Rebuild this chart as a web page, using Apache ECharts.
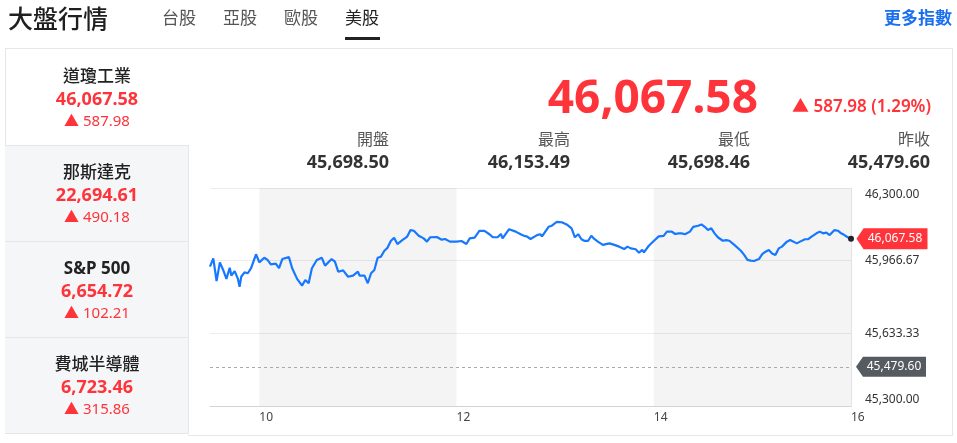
<!DOCTYPE html>
<html><head><meta charset="utf-8">
<script src="https://cdn.jsdelivr.net/npm/echarts@6/dist/echarts.min.js"></script>
<style>
body{margin:0;width:957px;height:443px;overflow:hidden;background:#fff;position:relative;font-family:"Noto Sans","Noto Sans CJK TC",sans-serif;color:#222}
#chart{position:absolute;left:0;top:0;width:957px;height:443px;z-index:0}
.a{position:absolute;white-space:nowrap;line-height:1.2;z-index:2}
.cy{transform:translateY(-50%)}
.cxy{transform:translate(-50%,-50%)}
.red{color:#ff333a}
.box{position:absolute;box-sizing:border-box;z-index:1}
</style></head>
<body>
<div id="chart"></div>
<!-- header -->
<div class="a cy" style="left:8px;top:18px;font-size:25px;font-weight:500;color:#1f1f1f">大盤行情</div>
<div class="a cy" style="left:162px;top:18px;font-size:17px;color:#555">台股</div>
<div class="a cy" style="left:223px;top:18px;font-size:17px;color:#555">亞股</div>
<div class="a cy" style="left:284px;top:18px;font-size:17px;color:#555">歐股</div>
<div class="a cy" style="left:345px;top:18px;font-size:17px;color:#222">美股</div>
<div class="box" style="left:345px;top:37px;width:35px;height:3px;background:#222"></div>
<div class="a cy" style="right:5px;top:18px;font-size:17px;font-weight:700;color:#1a6ff0">更多指數</div>
<div class="box" style="left:5px;top:48px;width:948px;height:1px;background:#e6e7ea"></div>
<!-- left panel -->
<div class="box" style="left:5px;top:49px;width:1px;height:96px;background:#e6e7ea"></div>
<div class="box" style="left:5px;top:145px;width:184px;height:289px;background:#f5f6f8;border-top:1px solid #e4e6ea;border-right:1px solid #e4e6ea;border-bottom:1px solid #e4e6ea"></div>
<div class="box" style="left:5px;top:241px;width:183px;height:1px;background:#e4e6ea"></div>
<div class="box" style="left:5px;top:337px;width:183px;height:1px;background:#e4e6ea"></div>
<!-- right panel borders -->
<div class="box" style="left:952px;top:49px;width:1px;height:387px;background:#e6e7ea"></div>
<div class="box" style="left:188px;top:435px;width:765px;height:1px;background:#e6e7ea"></div>

<div class="a cxy" style="left:97px;top:76px;font-size:17px;font-weight:500">道瓊工業</div>
<div class="a cxy red" style="left:97px;top:99px;font-size:18px;font-weight:700">46,067.58</div>
<div class="a cxy red" style="left:97px;top:120px;font-size:15px">▲ 587.98</div>

<div class="a cxy" style="left:97px;top:172px;font-size:17px;font-weight:500">那斯達克</div>
<div class="a cxy red" style="left:97px;top:195px;font-size:18px;font-weight:700">22,694.61</div>
<div class="a cxy red" style="left:97px;top:216px;font-size:15px">▲ 490.18</div>

<div class="a cxy" style="left:97px;top:268px;font-size:17px;font-weight:700">S&amp;P 500</div>
<div class="a cxy red" style="left:97px;top:291px;font-size:18px;font-weight:700">6,654.72</div>
<div class="a cxy red" style="left:97px;top:312px;font-size:15px">▲ 102.21</div>

<div class="a cxy" style="left:97px;top:364px;font-size:17px;font-weight:500">費城半導體</div>
<div class="a cxy red" style="left:97px;top:387px;font-size:18px;font-weight:700">6,723.46</div>
<div class="a cxy red" style="left:97px;top:408px;font-size:15px">▲ 315.86</div>

<!-- main stats -->
<div class="a cy red" style="right:199px;top:96px;font-size:46px;font-weight:700">46,067.58</div>
<div class="a cy red" style="right:26px;top:106px;font-size:17px;font-weight:600">▲ 587.98 (1.29%)</div>

<div class="a cy" style="right:568px;top:140px;font-size:16px;color:#555">開盤</div>
<div class="a cy" style="right:568px;top:162px;font-size:18px;font-weight:700;color:#333">45,698.50</div>
<div class="a cy" style="right:387px;top:140px;font-size:16px;color:#555">最高</div>
<div class="a cy" style="right:387px;top:162px;font-size:18px;font-weight:700;color:#333">46,153.49</div>
<div class="a cy" style="right:207px;top:140px;font-size:16px;color:#555">最低</div>
<div class="a cy" style="right:207px;top:162px;font-size:18px;font-weight:700;color:#333">45,698.46</div>
<div class="a cy" style="right:27px;top:140px;font-size:16px;color:#555">昨收</div>
<div class="a cy" style="right:27px;top:162px;font-size:18px;font-weight:700;color:#333">45,479.60</div>

<script>
// ---- data ----
const times = ["9:30","9:32","9:34","9:36","9:38","9:40","9:42","9:43","9:45","9:47",
"9:48","9:49","9:51","9:53","9:55","9:58","10:00","10:03","10:05","10:07",
"10:10","10:12","10:14","10:18","10:20","10:23","10:26","10:28","10:30","10:32",
"10:35","10:38","10:40","10:44","10:46","10:48","10:51","10:54","10:57","11:00",
"11:01","11:04","11:06","11:08","11:10","11:12","11:14","11:16","11:18","11:20",
"11:22","11:24","11:27","11:30","11:32","11:34","11:37","11:40","11:42","11:44",
"11:48","11:51","11:53","11:56","12:00","12:03","12:06","12:08","12:11","12:14",
"12:17","12:20","12:22","12:25","12:27","12:28","12:32","12:36","12:39","12:41",
"12:43","12:45","12:46","12:49","12:51","12:52","12:56","12:58","13:01","13:04",
"13:07","13:10","13:12","13:14","13:16","13:18","13:20","13:22","13:24","13:26",
"13:29","13:30","13:33","13:36","13:39","13:42","13:44","13:45","13:46","13:49",
"13:51","13:53","13:54","13:57","14:00","14:03","14:06","14:08","14:11","14:13",
"14:15","14:17","14:19","14:22","14:24","14:27","14:29","14:31","14:33","14:35",
"14:37","14:39","14:40","14:42","14:44","14:46","14:49","14:53","14:55","14:57",
"14:59","15:01","15:02","15:04","15:06","15:08","15:10","15:12","15:14","15:16",
"15:18","15:21","15:23","15:25","15:27","15:29","15:32","15:34","15:36","15:39",
"15:41","15:43","15:45","15:47","15:50","15:52","15:54","15:56","15:58","16:00"];
const prices = [45939,45977,45873,45959,45924,45883,45934,45898,45919,45883,
45847,45893,45913,45909,45932,45996,45959,45980,45970,45950,
45953,45932,45974,45983,45932,45883,45852,45878,45863,45932,
45970,45980,45944,45974,45962,45916,45922,45893,45898,45916,
45898,45898,45863,45909,45924,45980,45985,46011,46026,46057,
46072,46043,46061,46077,46107,46104,46081,46069,46054,46074,
46075,46063,46066,46054,46054,46057,46043,46069,46072,46104,
46103,46088,46075,46074,46089,46069,46111,46100,46088,46081,
46077,46066,46069,46084,46088,46078,46122,46127,46145,46143,
46133,46115,46074,46088,46065,46057,46057,46081,46065,46054,
46039,46046,46046,46039,46031,46020,46031,46039,46023,46019,
46003,46016,46005,46035,46057,46078,46080,46100,46100,46089,
46092,46092,46088,46100,46122,46127,46133,46122,46107,46115,
46092,46074,46080,46058,46061,46058,46039,46012,45993,45970,
45967,45965,45974,45974,45997,46008,46016,46000,45993,46023,
46031,46054,46061,46054,46046,46054,46065,46065,46077,46092,
46100,46092,46095,46084,46107,46104,46092,46084,46074,46067.58];
const prevClose = 45479.60;
const lastPrice = 46067.58;
const yTicks = [45300, 45633.33, 45966.67, 46300];
const xTicks = [10, 12, 14, 16];
const shadeBands = [[10, 12], [14, 16]];

const toHour = s => { const p = s.split(':'); return +p[0] + (+p[1]) / 60; };
const fmt = v => Number(v).toLocaleString('en-US', {minimumFractionDigits: 2, maximumFractionDigits: 2});
const seriesData = times.map((t, i) => [toHour(t), prices[i]]);

const chart = echarts.init(document.getElementById('chart'), null, {renderer: 'canvas'});
chart.setOption({
  animation: false,
  backgroundColor: 'transparent',
  grid: {left: 210, right: 106, top: 188, bottom: 37, containLabel: false},
  xAxis: {
    type: 'value', min: 9.5, max: 16,
    axisLine: {show: true, lineStyle: {color: '#cfd3dc', width: 1}},
    axisTick: {show: false, customValues: xTicks},
    splitLine: {show: false},
    axisLabel: {customValues: xTicks, align: 'left', color: '#444', fontSize: 12, margin: 6,
      fontFamily: 'Noto Sans', formatter: v => String(v)}
  },
  yAxis: {
    type: 'value', position: 'right', min: 45300, max: 46300,
    axisLine: {show: true, lineStyle: {color: '#e2e3ea'}},
    axisTick: {show: false, customValues: yTicks},
    splitLine: {show: true, lineStyle: {color: '#ececec'}},
    axisLabel: {
      customValues: yTicks, margin: 14, color: '#333', fontSize: 12, fontFamily: 'Noto Sans',
      formatter: v => v >= 46299 ? '{t|' + fmt(v) + '}' : (v <= 45301 ? '{b|' + fmt(v) + '}' : fmt(v)),
      rich: {t: {padding: [14, 0, 0, 0], color: '#333', fontSize: 12}, b: {padding: [0, 0, 12, 0], color: '#333', fontSize: 12}}
    }
  },
  series: [{
    type: 'line',
    data: seriesData,
    showSymbol: false,
    lineStyle: {color: '#1677ff', width: 2.2},
    itemStyle: {color: '#1677ff'},
    z: 3,
    markArea: {
      silent: true,
      itemStyle: {color: 'rgba(0,0,0,0.045)'},
      data: shadeBands.map(b => [{xAxis: b[0]}, {xAxis: b[1]}])
    },
    markLine: {
      silent: true, symbol: ['none', 'none'],
      lineStyle: {type: [3, 3], color: '#aaaaaa', width: 1},
      label: {show: false},
      data: [{yAxis: prevClose}]
    },
    markPoint: {
      silent: true,
      data: [
        {coord: [16, lastPrice], symbol: 'circle', symbolSize: 6, itemStyle: {color: '#222'}, label: {show: false}},
        {coord: [16, lastPrice], symbol: 'path://M0,10 L7,0 L70,0 L70,20 L7,20 Z', symbolKeepAspect: false,
          symbolSize: [71, 21], symbolOffset: [41, 0], itemStyle: {color: '#ff333a'},
          label: {show: true, position: 'inside', offset: [3, 0], color: '#fff', fontSize: 12, fontFamily: 'Noto Sans', formatter: () => fmt(lastPrice)}},
        {coord: [16, prevClose], symbol: 'path://M0,10 L7,0 L70,0 L70,20 L7,20 Z', symbolKeepAspect: false,
          symbolSize: [70, 20], symbolOffset: [40, 0], itemStyle: {color: '#555b61'},
          label: {show: true, position: 'inside', offset: [3, 0], color: '#fff', fontSize: 12, fontFamily: 'Noto Sans', formatter: () => fmt(prevClose)}}
      ]
    }
  }]
});
</script>
</body></html>
